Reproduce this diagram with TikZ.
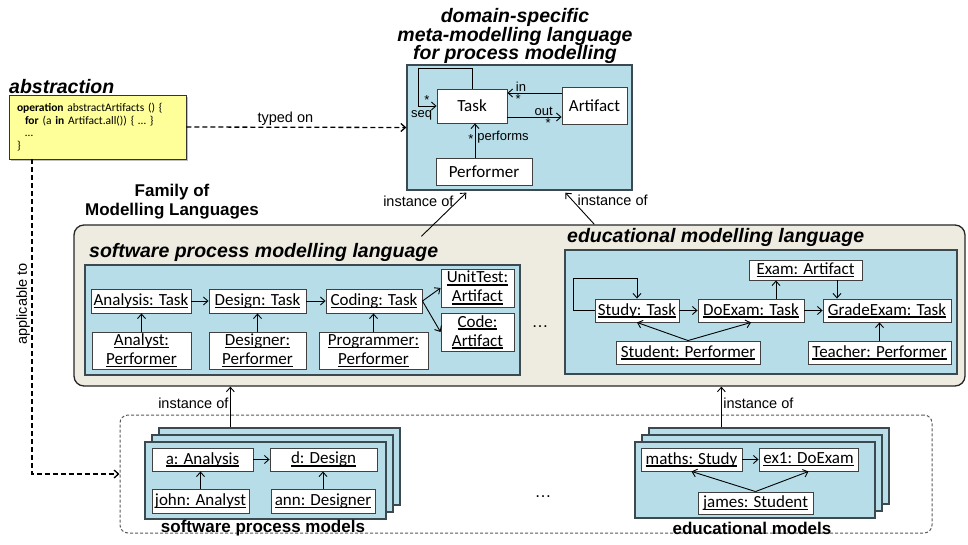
\documentclass[tikz,border=0pt]{standalone}
\usepackage{fontspec}
\setmainfont{Liberation Sans}
\newfontfamily\calib{Carlito}
\usetikzlibrary{arrows.meta,calc,shadows}
\definecolor{langblue}{HTML}{B7DEE8}
\definecolor{famgrey}{HTML}{EEECE1}
\definecolor{abstryellow}{HTML}{FFFF99}
\definecolor{frameline}{HTML}{3B4A50}
\newsavebox{\undlbox}
\newcommand{\undl}[1]{\sbox\undlbox{#1}\rlap{\rule[-2.8pt]{\wd\undlbox}{1.5pt}}\usebox\undlbox}

\begin{document}
\begin{tikzpicture}[x=1pt,y=-1pt,
    >={Straight Barb[length=4.5pt,width=8pt]},
    box/.style={draw=black!75, fill=white, line width=0.9pt, inner sep=0pt, align=center, font=\calib\fontsize{17}{19}\selectfont},
    lang/.style={draw=frameline, fill=langblue, line width=1.3pt, inner sep=0pt},
    title/.style={font=\bfseries\itshape\fontsize{19.5}{18.5}\selectfont, inner sep=0pt},
    caption/.style={font=\bfseries\fontsize{17}{19}\selectfont, inner sep=0pt, align=center},
    lbl/.style={font=\fontsize{13}{14}\selectfont, inner sep=1pt},
    inst/.style={font=\fontsize{14.5}{16}\selectfont, inner sep=1.5pt},
    rel/.style={->, line width=0.9pt},
    dep/.style={->, line width=1.3pt, dash pattern=on 5pt off 3pt},
    abstr/.style={draw=black!80, fill=abstryellow, line width=0.9pt, minimum width=177pt, minimum height=64pt, text width=161pt, inner xsep=8pt, align=left, font=\calib\fontsize{11.5}{12.7}\selectfont, drop shadow={shadow xshift=1.5pt, shadow yshift=-1.5pt, opacity=0.5}}]
    \useasboundingbox (0,0) rectangle (968,544);

    \node[title, align=center] (metatitle) at (515,36) {domain-specific\\meta-modelling language\\for process modelling};
    \node[lang, minimum width=225pt, minimum height=125pt] (meta) at (519.5,127.5) {};
    \node[box, minimum width=70pt, minimum height=34pt] (task) at (472,106) {Task};
    \node[box, minimum width=65pt, minimum height=37pt] (artifact) at (594.5,106) {Artifact};
    \node[box, minimum width=96pt, minimum height=27pt] (performer) at (484,171.5) {Performer};

    \draw[rel] (task.north) -- ++(0,-20) -- ++(-54,0) |- node[lbl, above=0pt, pos=0.74] {*} node[lbl, below=3pt, pos=0.6] {seq} (task.west);
    \draw[rel] ([yshift=13pt]artifact.west) to node[lbl, above, pos=0.75] {in} node[lbl, below, pos=0.8] {*} ([yshift=13pt]task.east);
    \draw[rel] ([yshift=-11pt]task.east) to node[lbl, above, pos=0.67] {out} node[lbl, below, pos=0.75] {*} ([yshift=-11pt]artifact.west);
    \draw[rel] ([xshift=-9pt]performer.north) to node[lbl, right=1pt, pos=0.6] {performs} node[lbl, left, pos=0.55] {*} ([xshift=3pt]task.south);

    \node[title, anchor=west] (abstitle) at (9,87) {abstraction};
    \node[abstr] (abs) at (97.5,127) {\textbf{operation} abstractArtifacts () \{\\\hspace*{8pt}\textbf{for} (a \textbf{in} Artifact.all()) \{ … \}\\\hspace*{8pt}…\\\}};

    \node[caption] (famtitle) at (172,202) {Family of\\Modelling Languages};
    \node[draw=black!85, fill=famgrey, line width=1.3pt, rounded corners=10pt, minimum width=891pt, minimum height=161pt] (fam) at (519.5,305.5) {};

    \node[title, anchor=west] (swtitle) at (89,252) {software process modelling language};
    \node[lang, minimum width=435pt, minimum height=110pt] (spml) at (302.5,320) {};
    \node[box, minimum width=100pt, minimum height=24pt] (an) at (141,301) {\undl{Analysis: Task}};
    \node[box, minimum width=97pt, minimum height=24pt] (de) at (257.5,301) {\undl{Design: Task}};
    \node[box, minimum width=96pt, minimum height=24pt] (co) at (374,301) {\undl{Coding: Task}};
    \node[box, minimum width=73pt, minimum height=38pt] (ut) at (477.5,288) {\undl{UnitTest:}\\\undl{Artifact}};
    \node[box, minimum width=73pt, minimum height=38pt] (cd) at (477.5,332) {\undl{Code:}\\\undl{Artifact}};
    \node[box, minimum width=99pt, minimum height=37pt] (ap) at (141.5,350.5) {\undl{Analyst:}\\\undl{Performer}};
    \node[box, minimum width=97pt, minimum height=37pt] (dp) at (257.5,350.5) {\undl{Designer:}\\\undl{Performer}};
    \node[box, minimum width=109pt, minimum height=37pt] (pp) at (373.5,351) {\undl{Programmer:}\\\undl{Performer}};

    \draw[rel] (an) -- (de);
    \draw[rel] (de) -- (co);
    \draw[rel] (co.east) -- (ut.west);
    \draw[rel] (co.east) -- (cd.west);
    \draw[rel] (ap.north) -- (ap.north |- an.south);
    \draw[rel] (dp.north) -- (dp.north |- de.south);
    \draw[rel] (pp.north) -- (pp.north |- co.south);

    \node[font=\fontsize{17}{19}\selectfont] (famdots) at (540,327) {…};

    \node[title, anchor=west] (edtitle) at (567,237) {educational modelling language};
    \node[lang, minimum width=392pt, minimum height=124pt] (eml) at (761,312) {};
    \node[box, minimum width=113pt, minimum height=20pt] (ex) at (805.5,270) {\undl{Exam: Artifact}};
    \node[box, minimum width=84pt, minimum height=23pt] (st) at (637,310.5) {\undl{Study: Task}};
    \node[box, minimum width=106pt, minimum height=23pt] (dx) at (751,310.5) {\undl{DoExam: Task}};
    \node[box, minimum width=128pt, minimum height=23pt] (ge) at (887,310.5) {\undl{GradeExam: Task}};
    \node[box, minimum width=144pt, minimum height=23pt] (sp) at (688,352.5) {\undl{Student: Performer}};
    \node[box, minimum width=143pt, minimum height=23pt] (tp) at (879.5,352.5) {\undl{Teacher: Performer}};

    \draw[rel] (st.west) -- ++(-21,0) |- ($(st.north)+(0,-20)$) -- (st.north);
    \draw[rel] (st) -- (dx);
    \draw[rel] (dx) -- (ge);
    \draw[rel] ([xshift=25pt]dx.north) -- ([xshift=25pt]dx.north |- ex.south);
    \draw[rel] ([xshift=31.5pt]ex.south) -- ([xshift=31.5pt]ex.south |- ge.north);
    \draw[rel] (sp.north) -- (st.south);
    \draw[rel] (sp.north) -- (dx.south);
    \draw[rel] (tp.north) -- (tp.north |- ge.south);

    \draw[rel] ($(fam.north west)+(348,12)$) to node[inst, left=2pt, pos=0.8] {instance of} ($(meta.south west)+(60,2)$);
    \draw[rel] ($(fam.north west)+(521,0)$) to node[inst, right=3pt, pos=0.75] {instance of} ($(meta.south west)+(159,2)$);

    \node[draw=black!65, line width=1pt, dash pattern=on 3pt off 2pt, rounded corners=8pt, minimum width=812pt, minimum height=118pt] (dbox) at (526,474) {};

    \node[lang, minimum width=241pt, minimum height=77pt] (swb) at (279.5,466.5) {};
    \node[lang, minimum width=241pt, minimum height=77pt] (swm) at (272.5,473.5) {};
    \node[lang, minimum width=241pt, minimum height=77pt] (swf) at (265.5,480.5) {};
    \node[box, minimum width=101pt, minimum height=23pt] (a) at (202.5,459.5) {\undl{a: Analysis}};
    \node[box, minimum width=107pt, minimum height=23pt] (d) at (323.5,459.5) {\undl{d: Design}};
    \node[box, minimum width=97pt, minimum height=24pt] (jo) at (200.5,501) {\undl{john: Analyst}};
    \node[box, minimum width=104pt, minimum height=24pt] (ann) at (323,501) {\undl{ann: Designer}};
    \node[caption] (swcap) at (263,528) {software process models};

    \draw[rel] (a) -- (d);
    \draw[rel] (jo.north) -- (jo.north |- a.south);
    \draw[rel] (ann.north) -- (ann.north |- d.south);

    \node[lang, minimum width=240pt, minimum height=76pt] (edb) at (769,466) {};
    \node[lang, minimum width=240pt, minimum height=76pt] (edm) at (762,473) {};
    \node[lang, minimum width=240pt, minimum height=76pt] (edf) at (755,480) {};
    \node[box, minimum width=101pt, minimum height=23pt] (ma) at (691.5,459.5) {\undl{maths: Study}};
    \node[box, minimum width=99pt, minimum height=23pt] (e1) at (808.5,459.5) {\undl{ex1: DoExam}};
    \node[box, minimum width=115pt, minimum height=22pt] (ja) at (755.5,503) {\undl{james: Student}};
    \node[caption] (edcap) at (752,528) {educational models};

    \draw[rel] (ma) -- (e1);
    \draw[rel] (ja.north) -- (ma.south);
    \draw[rel] (ja.north) -- (e1.south);

    \node[font=\fontsize{17}{19}\selectfont] (boxdots) at (543,497) {…};

    \coordinate (swup) at ($(swb.north west)+(72,0)$);
    \coordinate (edup) at ($(edb.north west)+(73,0)$);
    \draw[rel] (swup) to node[inst, left, pos=0.6] {instance of} (swup |- fam.south);
    \draw[rel] (edup) to node[inst, right, pos=0.6] {instance of} (edup |- fam.south);

    \draw[dep] (abs.east) to node[inst, above, pos=0.45] {typed on} (meta.west);
    \draw[dep] ([xshift=-65.5pt]abs.south) |- node[inst, pos=0.23, rotate=90, anchor=south] {applicable to} (dbox.west);
\end{tikzpicture}
\end{document}
